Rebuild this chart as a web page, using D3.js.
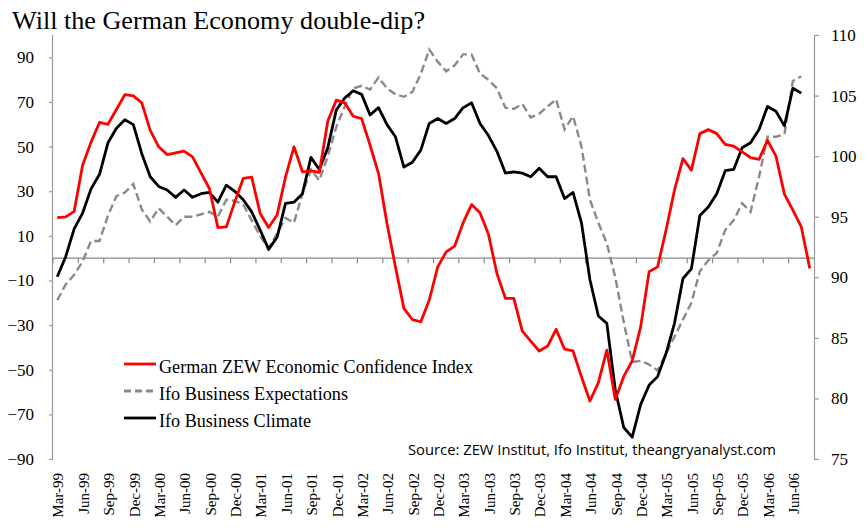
<!DOCTYPE html>
<html>
<head>
<meta charset="utf-8">
<title>Will the German Economy double-dip?</title>
<script src="https://d3js.org/d3.v7.min.js"></script>
<style>
    body { margin: 0; background: #fff; }
    text { font-family: "Liberation Serif", "DejaVu Serif", serif; fill: #000; }
    .src { font-family: "Open Sans", "Liberation Sans", sans-serif; }
</style>
</head>
<body>
<div id="chart"></div>
<script>
    const width = 866;
    const height = 528;

    // months Mar-99 .. Aug-06 (category axis)
    const months = d3.timeMonth.range(new Date(1999, 2, 1), new Date(2006, 8, 1));
    const fmt = d3.timeFormat("%b-%y");
    const categories = months.map(fmt);

    const tickLabels = ["Mar-99","Jun-99","Sep-99","Dec-99","Mar-00","Jun-00","Sep-00","Dec-00",
        "Mar-01","Jun-01","Sep-01","Dec-01","Mar-02","Jun-02","Sep-02","Dec-02",
        "Mar-03","Jun-03","Sep-03","Dec-03","Mar-04","Jun-04","Sep-04","Dec-04",
        "Mar-05","Jun-05","Sep-05","Dec-05","Mar-06","Jun-06"];

    const leftTicks = [-90, -70, -50, -30, -10, 10, 30, 50, 70, 90];
    const rightTicks = [75, 80, 85, 90, 95, 100, 105, 110];

    // German ZEW Economic Confidence Index (left axis), Mar-99 .. Aug-06
    const zew = [18.2,18.5,21,41.6,52,60.8,60,66.6,73.3,72.7,
        69.6,57.3,49.9,46.4,47.2,48,45.4,38.2,31.2,13.7,
        14,25.2,35.7,36.3,20,13.7,19.3,36.4,49.9,38.7,
        39.1,38.4,61.5,70.8,69.6,63.6,62.5,50.6,37.9,15.5,
        -3.9,-22.5,-27.5,-28.5,-18.8,-3.9,2.8,5.4,15.8,24,
        20.3,10.7,-6.9,-18,-18,-32.7,-37.2,-41.6,-39.4,-31.9,
        -40.8,-41.6,-53.2,-64,-55.8,-41.2,-63.3,-53,-46,-30.8,
        -6.1,-3.9,12.5,30.5,44.6,39.4,55.8,57.6,55.8,51,
        50.2,47.6,45.1,44.3,52.8,45.7,28.7,21.5,14,-4.6];

    // Ifo Business Expectations (right axis), Mar-99 .. Jul-06
    const ifoExpect = [88.1,89.4,90.2,91.3,93.0,93.0,95.1,96.7,97.0,97.7,
        95.6,94.6,95.7,95.0,94.3,95.0,95.0,95.2,95.4,95.0,
        96.4,96.3,96.0,94.7,93.4,92.4,93.6,94.9,94.5,96.9,
        98.9,98.0,100.0,102.4,104.1,105.6,105.8,105.5,106.5,105.6,
        105.1,104.9,105.3,106.8,108.8,107.8,107.0,107.5,108.4,108.4,
        106.8,106.3,105.6,104.0,103.9,104.3,103.2,103.5,104.1,104.7,
        102.2,103.3,100.8,96.4,94.5,92.8,90.0,86.3,83.0,83.1,
        82.8,82.3,83.7,85.1,86.5,87.9,90.5,91.4,92.0,93.9,
        94.7,96.1,95.4,98.3,101.6,101.6,101.8,106.2,106.6];

    // Ifo Business Climate (right axis), Mar-99 .. Jul-06
    const ifoClimate = [90.05,91.7,94.0,95.3,97.3,98.5,101.1,102.3,103.0,102.6,
        100.2,98.3,97.5,97.2,96.6,97.2,96.6,96.9,97.0,96.2,
        97.6,97.1,96.4,95.4,93.9,92.3,93.3,96.1,96.2,96.9,
        99.9,98.9,100.7,103.8,104.8,105.4,105.1,103.4,104.0,102.6,
        101.6,99.1,99.5,100.5,102.7,103.1,102.7,103.1,104.0,104.4,
        102.7,101.7,100.4,98.6,98.7,98.6,98.3,99.0,98.3,98.3,
        96.5,97.0,94.5,89.8,86.8,86.2,80.7,77.6,76.8,79.5,
        81.1,81.8,83.7,86.2,89.9,90.7,95.1,95.8,96.9,98.8,
        98.9,100.7,101.1,102.2,104.1,103.7,102.5,105.6,105.2];

    const plot = { left: 53, right: 814, top: 35, bottom: 459 };

    const svg = d3.select("#chart")
        .append("svg")
        .attr("width", width)
        .attr("height", height);

    const x = d3.scaleBand()
        .domain(categories)
        .range([plot.left, plot.right])
        .padding(0);

    const yL = d3.scaleLinear().domain([-90, 100]).range([plot.bottom, plot.top]);
    const yR = d3.scaleLinear().domain([75, 110]).range([plot.bottom, plot.top]);

    const cx = (d, i) => x(categories[i]) + x.bandwidth() / 2;

    // title
    svg.append("text")
        .attr("x", 12)
        .attr("y", 29)
        .attr("font-size", 26)
        .attr("textLength", 413)
        .attr("lengthAdjust", "spacingAndGlyphs")
        .text("Will the German Economy double-dip?");

    // left axis
    const axisL = svg.append("g")
        .attr("transform", `translate(${plot.left},0)`)
        .call(d3.axisLeft(yL).tickValues(leftTicks).tickSize(4).tickFormat(d3.format("d")));
    axisL.select(".domain").attr("d", `M-0.5,${plot.bottom}V${plot.top}`);

    // right axis
    const axisR = svg.append("g")
        .attr("transform", `translate(${plot.right},0)`)
        .call(d3.axisRight(yR).tickValues(rightTicks).tickSize(5).tickFormat(d3.format("d")));
    axisR.select(".domain").attr("d", `M0.5,${plot.bottom}V${plot.top}`);

    [axisL, axisR].forEach(g => {
        g.selectAll(".domain, line").attr("stroke", "#999").attr("stroke-width", 1.2);
        g.selectAll("text")
            .attr("font-family", "Liberation Serif, serif")
            .attr("font-size", 17)
            .attr("fill", "#000");
    });
    axisL.selectAll("text").attr("x", -19);
    axisR.selectAll("text").attr("x", 17);

    // zero line with category ticks every 3 months
    const y0 = yL(0);
    const zero = svg.append("g");
    zero.append("line")
        .attr("x1", plot.left).attr("x2", plot.right)
        .attr("y1", y0).attr("y2", y0)
        .attr("stroke", "#888").attr("stroke-width", 1.2);
    const tickPos = categories.filter((c, i) => i % 3 === 0).map(c => x(c));
    zero.selectAll("line.tk")
        .data(tickPos)
        .enter()
        .append("line")
        .attr("class", "tk")
        .attr("x1", d => d).attr("x2", d => d)
        .attr("y1", y0).attr("y2", y0 + 5)
        .attr("stroke", "#888").attr("stroke-width", 1.2);

    // month labels
    svg.selectAll("text.month")
        .data(tickLabels)
        .enter()
        .append("text")
        .attr("class", "month")
        .attr("font-size", 15)
        .attr("text-anchor", "end")
        .attr("dy", "0.35em")
        .attr("transform", d => `translate(${x(d) + x.bandwidth() / 2 + 1},473) rotate(-90)`)
        .text(d => d);

    // series
    const lineL = d3.line().x(cx).y(d => yL(d));
    const lineR = d3.line().x(cx).y(d => yR(d));

    svg.append("path")
        .attr("d", lineR(ifoExpect))
        .attr("fill", "none")
        .attr("stroke", "#8a8a8a")
        .attr("stroke-width", 2.4)
        .attr("stroke-dasharray", "8,4");

    svg.append("path")
        .attr("d", lineR(ifoClimate))
        .attr("fill", "none")
        .attr("stroke", "#000")
        .attr("stroke-width", 2.8)
        .attr("stroke-linejoin", "round");

    svg.append("path")
        .attr("d", lineL(zew))
        .attr("fill", "none")
        .attr("stroke", "#ff0000")
        .attr("stroke-width", 2.8)
        .attr("stroke-linejoin", "round");

    // legend
    const legend = [
        { name: "German ZEW Economic Confidence Index", color: "#ff0000", dash: null, w: 314 },
        { name: "Ifo Business Expectations", color: "#8a8a8a", dash: "7,4", w: 189 },
        { name: "Ifo Business Climate", color: "#000", dash: null, w: 152 }
    ];
    const lg = svg.selectAll("g.leg")
        .data(legend)
        .enter()
        .append("g")
        .attr("transform", (d, i) => `translate(124,${364 + i * 27})`);
    lg.append("line")
        .attr("x1", 0).attr("x2", 32)
        .attr("stroke", d => d.color)
        .attr("stroke-width", 2.8)
        .attr("stroke-dasharray", d => d.dash);
    lg.append("text")
        .attr("x", 35)
        .attr("y", 9)
        .attr("font-size", 18)
        .attr("textLength", d => d.w)
        .attr("lengthAdjust", "spacingAndGlyphs")
        .text(d => d.name);

    // source
    svg.append("text")
        .attr("class", "src")
        .attr("x", 408)
        .attr("y", 455)
        .attr("font-size", 15)
        .attr("textLength", 368)
        .attr("lengthAdjust", "spacingAndGlyphs")
        .text("Source: ZEW Institut, Ifo Institut, theangryanalyst.com");
</script>
</body>
</html>
